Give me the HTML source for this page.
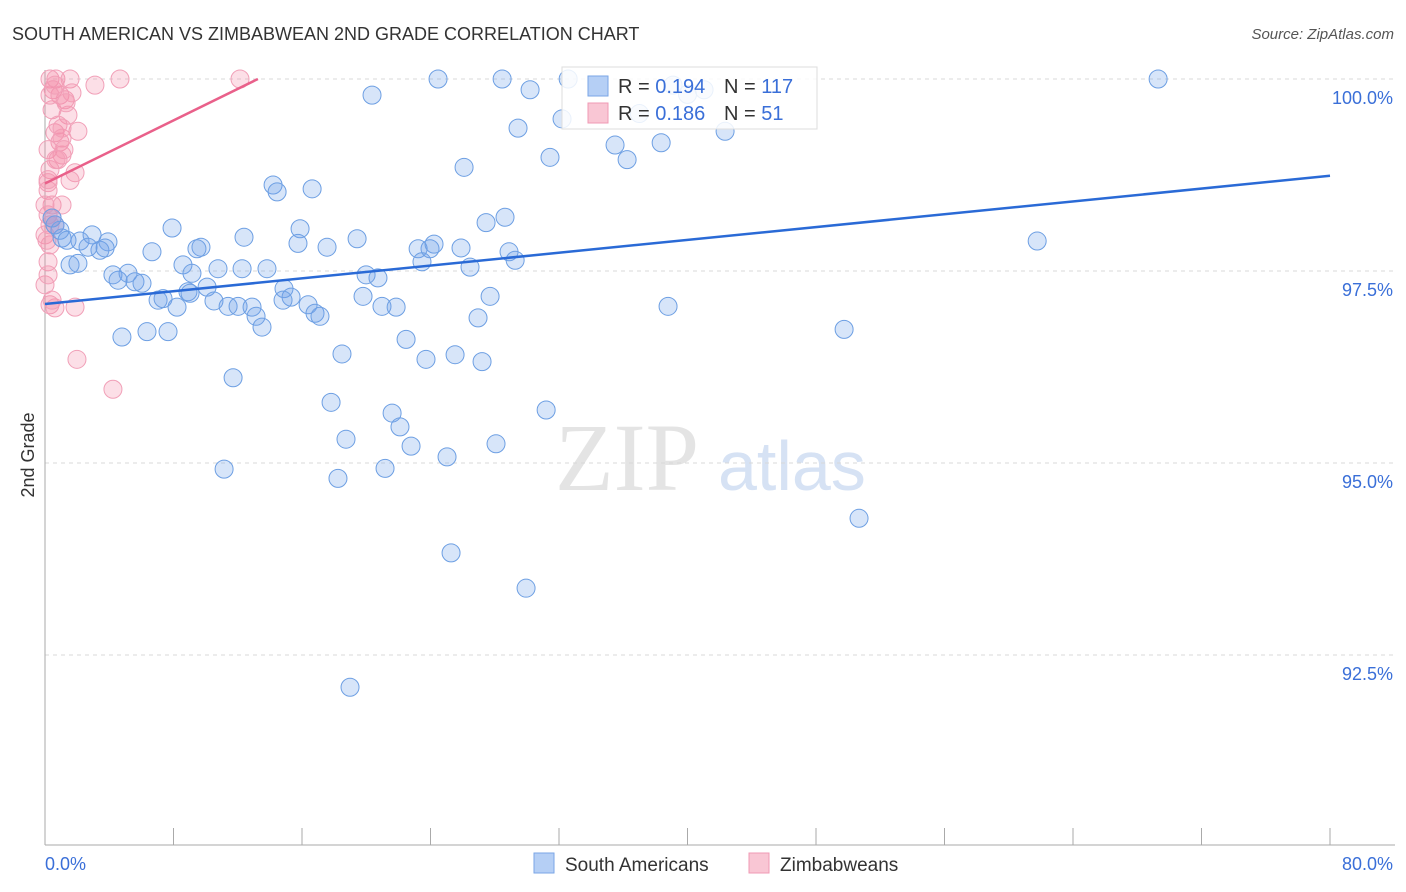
<!DOCTYPE html>
<html><head><meta charset="utf-8"><style>
body{margin:0;background:#fff;font-family:"Liberation Sans",sans-serif;}
svg{display:block}
</style></head><body>
<svg id="chart" width="1406" height="892" xmlns="http://www.w3.org/2000/svg">
<text x="12" y="40" font-size="18" fill="#333">SOUTH AMERICAN VS ZIMBABWEAN 2ND GRADE CORRELATION CHART</text>
<text x="1394" y="39" font-size="15" fill="#555" font-style="italic" text-anchor="end">Source: ZipAtlas.com</text>
<text transform="translate(34,455) rotate(-90)" font-size="18" fill="#333" text-anchor="middle">2nd Grade</text>
<g>
<text x="555" y="490" font-size="96" font-family="Liberation Serif,serif" fill="#e4e4e4">ZIP</text>
<text x="718" y="490" font-size="70" fill="#d6e2f4">atlas</text>
</g>
<g id="grid"></g><g id="axes"></g><g id="marks"></g><g id="lines"></g>
<g>
<rect x="562" y="67" width="255" height="62" fill="#fff" fill-opacity="0.85" stroke="#ddd"/>
<rect x="588" y="76" width="20" height="20" fill="#b5cff5" stroke="#7aa6e6"/>
<rect x="588" y="103" width="20" height="20" fill="#f9c6d4" stroke="#f09ab4"/>
<text x="618" y="93" font-size="20" fill="#333">R = <tspan fill="#3a6fd8">0.194</tspan></text>
<text x="724" y="93" font-size="20" fill="#333">N = <tspan fill="#3a6fd8">117</tspan></text>
<text x="618" y="120" font-size="20" fill="#333">R = <tspan fill="#3a6fd8">0.186</tspan></text>
<text x="724" y="120" font-size="20" fill="#333">N = <tspan fill="#3a6fd8"> 51</tspan></text>
</g>
<g>
<rect x="534" y="853" width="20" height="20" fill="#b5cff5" stroke="#7aa6e6"/>
<text x="565" y="871" font-size="19" fill="#333">South Americans</text>
<rect x="749" y="853" width="20" height="20" fill="#f9c6d4" stroke="#f09ab4"/>
<text x="780" y="871" font-size="19" fill="#333">Zimbabweans</text>
</g>
</svg>
<script>
const yTicks=[100,97.5,95,92.5];
const yTickLabels=["100.0%","97.5%","95.0%","92.5%"];
const xTicks=[0,10,20,30,40,50,60,70,80];
const xEndLabels=["0.0%","80.0%"];
const blueX=[24.47,28.46,32.57,69.30,20.36,30.20,39.10,41.03,29.45,32.19,35.49,36.24,38.36,42.34,31.44,26.09,14.20,14.45,16.63,28.64,27.46,7.91,15.88,12.39,19.43,17.56,15.75,9.71,9.46,6.66,3.92,2.93,2.18,1.06,0.62,1.56,2.05,3.42,2.68,23.23,23.97,24.22,25.90,28.89,29.27,23.47,26.46,61.77,8.59,9.15,10.77,12.27,13.82,4.23,5.17,4.55,5.60,6.04,8.90,10.09,14.88,15.32,16.38,19.80,20.73,19.99,7.04,7.35,10.52,11.40,12.02,12.89,13.14,13.51,8.22,20.98,21.86,16.81,17.12,27.71,26.96,38.79,4.79,6.35,7.66,22.48,18.49,23.72,25.53,27.21,11.71,49.75,17.81,21.61,22.10,18.74,22.79,25.03,28.08,31.20,11.15,18.24,21.17,50.68,25.28,29.95,18.99,0.93,1.37,3.74,14.82,9.03,0.44,37.0,40.0];
const blueY=[100,100,100,100,99.79,99.86,99.92,99.86,99.36,99.48,99.14,98.95,99.17,99.32,98.98,98.85,98.62,98.53,98.57,98.20,98.13,98.06,98.05,97.94,97.92,97.81,97.86,97.81,97.79,97.75,97.88,97.97,97.89,97.93,98.10,97.58,97.60,97.77,97.81,97.79,97.79,97.85,97.80,97.75,97.64,97.62,97.55,97.89,97.58,97.47,97.53,97.53,97.53,97.45,97.47,97.38,97.36,97.34,97.23,97.29,97.27,97.16,97.06,97.17,97.41,97.45,97.12,97.14,97.11,97.04,97.04,97.03,96.91,96.77,97.03,97.04,97.03,96.95,96.91,97.17,96.89,97.04,96.64,96.71,96.71,96.61,96.42,96.35,96.41,96.32,96.11,96.74,95.79,95.65,95.47,95.31,95.22,95.08,95.25,95.69,94.92,94.80,94.93,94.28,93.83,93.37,92.08,98.03,97.90,97.80,97.12,97.21,98.19,99.55,99.80];
const pinkX=[0.31,0.68,1.56,3.11,4.67,12.14,0.50,0.93,1.25,1.68,1.43,0.44,2.05,0.62,0.93,0.19,1.06,0.81,0.31,1.87,1.56,0.19,0.44,1.06,0.19,0.62,0,0.31,0.19,0,0.31,0.62,1.87,1.99,4.23,0.81,1.06,1.18,0.19,0.31,0.44,0.19,0.31,0.62,1.06,0.12,0.44,0.68,1.31,0.19,0];
const pinkY=[100,100,100,99.92,100,100,99.86,99.79,99.73,99.82,99.53,99.60,99.32,99.30,99.18,99.08,99.01,98.95,98.82,98.78,98.68,98.65,98.36,98.36,98.23,98.10,97.97,97.84,97.62,97.32,97.06,97.02,97.03,96.35,95.96,99.40,99.23,99.08,98.55,98.10,97.12,97.45,99.79,99.92,99.36,97.90,98.19,98.95,99.69,98.69,98.36];
const blueTrend=[97.07,98.74];
const pinkTrend=[98.64,0.1026];
const NS="http://www.w3.org/2000/svg";
const X0=45,X1=1330,Y0=79;
function sx(v){return X0+(X1-X0)*v/80;}
function sy(v){return Y0+(100-v)*76.8;}
function mk(t,a,p){const e=document.createElementNS(NS,t);for(const k in a)e.setAttribute(k,a[k]);p.appendChild(e);return e;}
const grid=document.getElementById('grid'),axes=document.getElementById('axes'),marks=document.getElementById('marks'),lines=document.getElementById('lines');
yTicks.forEach((t,i)=>{
 const l=mk('line',{x1:45,x2:1395,y1:sy(t),y2:sy(t),stroke:'#d8d8d8','stroke-dasharray':'4,4'},grid);
 
 
 const tx=mk('text',{x:1393,y:sy(t)+25,'font-size':18,fill:'#3a6fd8','text-anchor':'end'},axes);
 tx.textContent=yTickLabels[i];
 
 
});
const ax=mk('line',{x1:45,x2:1395,y1:845,y2:845,stroke:'#aaa'},axes);


const ay=mk('line',{x1:45,x2:45,y1:70,y2:845,stroke:'#aaa'},axes);


for(let v=0;v<=80;v+=10/1.25){}
[0,8,16,24,32,40,48,56,64,72,80].forEach(v=>{
 const t=mk('line',{x1:sx(v),x2:sx(v),y1:828,y2:845,stroke:'#aaa'},axes);
 
 
});
const l0=mk('text',{x:45,y:870,'font-size':18,fill:'#3a6fd8'},axes);l0.textContent=xEndLabels[0];


const l1=mk('text',{x:1393,y:870,'font-size':18,fill:'#3a6fd8','text-anchor':'end'},axes);l1.textContent=xEndLabels[1];


pinkX.forEach((x,i)=>{
 const c=mk('circle',{cx:sx(x),cy:sy(pinkY[i]),r:9,fill:'rgba(244,140,170,0.28)',stroke:'#f1a0b8','stroke-width':1},marks);
 
 
});
blueX.forEach((x,i)=>{
 const c=mk('circle',{cx:sx(x),cy:sy(blueY[i]),r:9,fill:'rgba(110,160,235,0.28)',stroke:'#6d9fe3','stroke-width':1},marks);
 
 
});
const bl=mk('line',{x1:sx(0),y1:sy(blueTrend[0]),x2:sx(80),y2:sy(blueTrend[1]),stroke:'#2a6ad6','stroke-width':2.5},lines);


const pxEnd=(100-pinkTrend[0])/pinkTrend[1];
const pl=mk('line',{x1:sx(0),y1:sy(pinkTrend[0]),x2:sx(pxEnd),y2:sy(100),stroke:'#e9608a','stroke-width':2.5},lines);


</script>
</body></html>
